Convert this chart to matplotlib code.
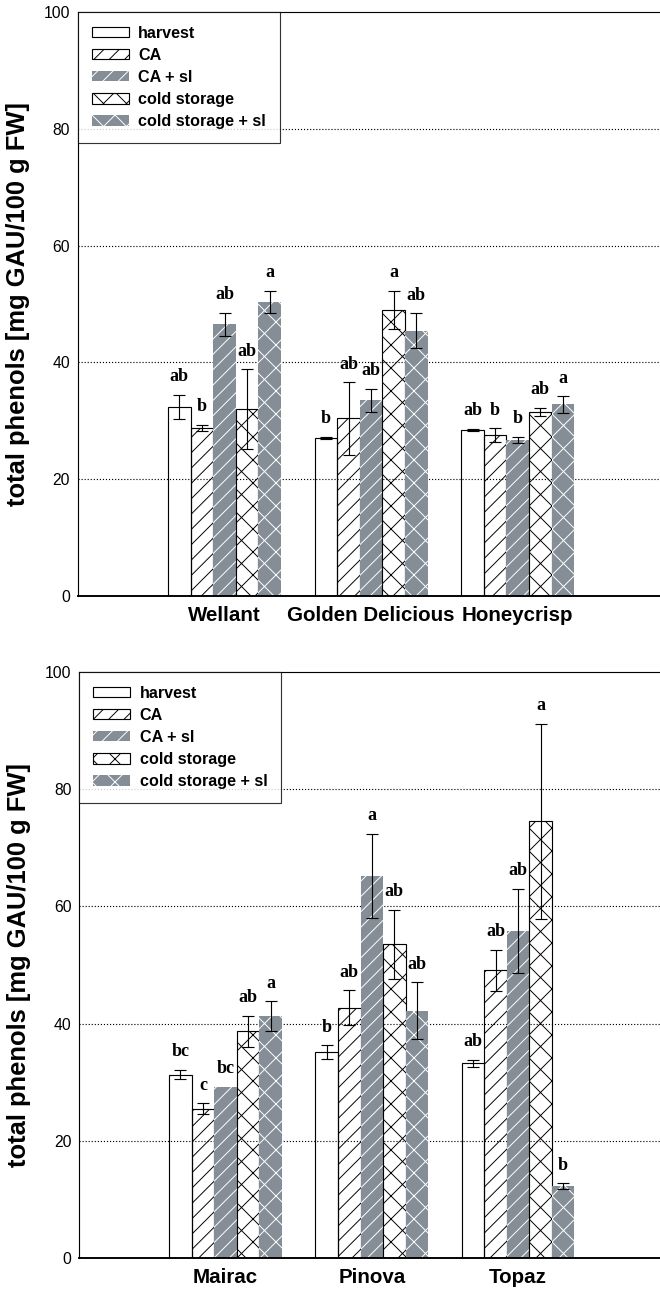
import numpy as np
import matplotlib
matplotlib.use('Agg')
import matplotlib.pyplot as plt

treatments = ['harvest', 'CA', 'CA + sl', 'cold storage', 'cold storage + sl']

cult_top = ['Wellant', 'Golden Delicious', 'Honeycrisp']
mean_top = [[32.4, 27.0, 28.4],   # harvest
            [28.8, 30.4, 27.5],   # CA
            [46.5, 33.5, 26.7],   # CA + sl
            [32.0, 49.0, 31.5],   # cold storage
            [50.4, 45.4, 32.8]]   # cold storage + sl
err_top = [[2.1, 0.2, 0.2],
           [0.5, 6.2, 1.2],
           [2.0, 2.0, 0.5],
           [6.8, 3.2, 0.7],
           [1.9, 3.0, 1.4]]
let_top = [['ab', 'b', 'ab'],
           ['b', 'ab', 'b'],
           ['ab', 'ab', 'b'],
           ['ab', 'a', 'ab'],
           ['a', 'ab', 'a']]

cult_bot = ['Mairac', 'Pinova', 'Topaz']
mean_bot = [[31.3, 35.1, 33.2],
            [25.5, 42.7, 49.1],
            [29.2, 65.2, 55.8],
            [38.7, 53.5, 74.5],
            [41.3, 42.2, 12.3]]
err_bot = [[0.75, 1.2, 0.6],
           [0.9, 2.95, 3.5],
           [np.nan, 7.2, 7.25],
           [2.65, 5.9, 16.7],
           [2.5, 4.85, 0.45]]
let_bot = [['bc', 'b', 'ab'],
           ['c', 'ab', 'ab'],
           ['bc', 'a', 'ab'],
           ['ab', 'ab', 'a'],
           ['a', 'ab', 'b']]

DPI = 138
GRAY = '#858e96'
styles = [dict(facecolor='none', edgecolor='black', hatch=None, linewidth=0.6),
          dict(facecolor='none', edgecolor='black', hatch='///', linewidth=0.6),
          dict(facecolor=GRAY, edgecolor='white', hatch='///', linewidth=0),
          dict(facecolor='none', edgecolor='black', hatch='xx', linewidth=0.6),
          dict(facecolor=GRAY, edgecolor='white', hatch='xx', linewidth=0)]

plt.rcParams['font.family'] = ['Liberation Sans', 'DejaVu Sans']
plt.rcParams['hatch.linewidth'] = 0.5

fig = plt.figure(figsize=(660 / DPI, 1292 / DPI), dpi=DPI)
ax1 = fig.add_axes([0.118, 0.5387, 0.882, 0.452])
ax2 = fig.add_axes([0.120, 0.0263, 0.880, 0.4536])


def draw(ax, cults, means, errs, letters):
    x = np.arange(1, len(cults) + 1)
    w = 0.154
    for i, t in enumerate(treatments):
        xs = x + (i - 2) * w
        ax.bar(xs, means[i], w, label=t, zorder=2, **styles[i])
        ax.errorbar(xs, means[i], yerr=errs[i], fmt='none', ecolor='black',
                    elinewidth=0.6, capsize=3, capthick=0.6, zorder=3)
        for xx, m, e, s in zip(xs, means[i], errs[i], letters[i]):
            top = m + (0 if np.isnan(e) else e)
            ax.annotate(s, (xx, top), xytext=(0, 9.5), textcoords='offset points',
                        ha='center', va='center', fontsize=9.4, fontweight='bold',
                        family='Liberation Serif')
    ax.set_xlim(0, 3.97)
    ax.set_ylim(0, 100)
    ax.set_yticks([0, 20, 40, 60, 80, 100])
    ax.set_xticks(x)
    ax.set_xticklabels(cults, fontweight='bold', fontsize=10.7)
    ax.tick_params(axis='both', length=0)
    ax.tick_params(axis='y', labelsize=8.2, pad=4)
    ax.tick_params(axis='x', pad=5)
    for g in [20, 40, 60, 80]:
        ax.axhline(g, color='black', linestyle=':', linewidth=0.6, zorder=1)
    ax.spines['right'].set_visible(False)
    ax.spines['left'].set_linewidth(0.6)
    ax.spines['top'].set_linewidth(0.6)
    ax.spines['bottom'].set_linewidth(1.0)
    ax.set_ylabel('total phenols [mg GAU/100 g FW]', fontweight='bold', fontsize=13.3)
    ax.yaxis.set_label_coords(-0.083, 0.5)
    leg = ax.legend(loc='upper left', borderaxespad=0, fancybox=False,
                    prop={'weight': 'bold', 'size': 8.4}, handlelength=2.3,
                    handleheight=0.63, handletextpad=0.6, labelspacing=0.44,
                    borderpad=0.85)
    leg.get_frame().set_edgecolor('black')
    leg.get_frame().set_linewidth(0.6)
    leg.set_zorder(5)


draw(ax1, cult_top, mean_top, err_top, let_top)
draw(ax2, cult_bot, mean_bot, err_bot, let_bot)

fig.savefig('out.png', dpi=DPI)
